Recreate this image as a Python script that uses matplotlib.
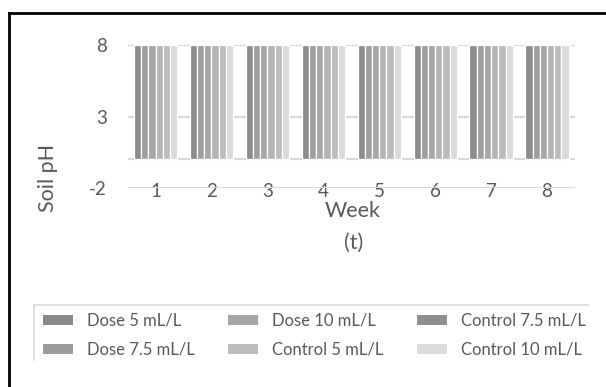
import matplotlib
matplotlib.use("Agg")
import matplotlib.pyplot as plt
from matplotlib.patches import Patch
from matplotlib.lines import Line2D
import numpy as np

plt.rcParams['font.family'] = ['Lato', 'DejaVu Sans']
plt.rcParams['axes.unicode_minus'] = False

weeks = [1, 2, 3, 4, 5, 6, 7, 8]
series = ["Dose 5 mL/L", "Dose 7.5 mL/L", "Dose 10 mL/L",
          "Control 5 mL/L", "Control 7.5 mL/L", "Control 10 mL/L"]
ph_values = {
    "Dose 5 mL/L":      [8, 8, 8, 8, 8, 8, 8, 8],
    "Dose 7.5 mL/L":    [8, 8, 8, 8, 8, 8, 8, 8],
    "Dose 10 mL/L":     [8, 8, 8, 8, 8, 8, 8, 8],
    "Control 5 mL/L":   [8, 8, 8, 8, 8, 8, 8, 8],
    "Control 7.5 mL/L": [8, 8, 8, 8, 8, 8, 8, 8],
    "Control 10 mL/L":  [8, 8, 8, 8, 8, 8, 8, 8],
}
y_ticks = [-2, 3, 8]

bar_colors = ["#8c8c8c", "#a0a0a0", "#a6a6a6", "#b5b5b5", "#bcbcbc", "#dadada"]
legend_colors = ["#8a8a8a", "#9b9b9b", "#a5a5a5", "#bcbcbc", "#8e8e8e", "#dcdcdc"]
text_color = "#595959"
grid_color = "#d9d9d9"

W, H = 606, 387
fig = plt.figure(figsize=(W / 100, H / 100), dpi=100)

# plot area in pixel coordinates
left, right, top, bottom = 127.6, 575.0, 45.0, 188.0
ax = fig.add_axes([left / W, 1 - bottom / H, (right - left) / W, (bottom - top) / H])

x = np.arange(len(weeks)) + 1
n = len(series)
group_w = 0.775
slot = group_w / n
for i, name in enumerate(series):
    offs = -group_w / 2 + slot * (i + 0.5)
    ax.bar(x + offs, ph_values[name], width=slot, color=bar_colors[i],
           edgecolor="white", linewidth=0.9, zorder=2)

ax.set_xlim(0.5, 8.5)
ax.set_ylim(-2, 8)
ax.set_yticks(y_ticks)
ax.set_xticks(x)
ax.set_xticklabels([str(w) for w in weeks])
ax.grid(axis="y", color=grid_color, linewidth=1.5, zorder=0)
ax.axhline(0, color=grid_color, linewidth=1.5, zorder=1)
ax.set_axisbelow(True)
for s in ax.spines.values():
    s.set_visible(False)
ax.tick_params(axis="y", length=0, pad=15, labelsize=13.5, labelcolor=text_color)
ax.tick_params(axis="x", length=0, pad=-3.5, labelsize=13.5, labelcolor=text_color)

fig.text(48 / W, 1 - 178 / H, "Soil pH", rotation=90, ha="center", va="center",
         fontsize=15.5, color=text_color)
fig.text(353 / W, 1 - 211 / H, "Week", ha="center", va="center",
         fontsize=15.5, color=text_color)
fig.text(354 / W, 1 - 243 / H, "(t)", ha="center", va="center",
         fontsize=15.5, color=text_color)

# legend
handles = [Patch(facecolor=c, edgecolor="none") for c in legend_colors]
leg = fig.legend(handles, series, ncol=3, loc="upper left",
                 bbox_to_anchor=(42.7 / W, 1 - 313 / H),
                 frameon=False, fontsize=12, labelcolor=text_color,
                 handlelength=1.8, handleheight=0.55, handletextpad=0.85,
                 columnspacing=2.0, labelspacing=0.75,
                 borderpad=0, borderaxespad=0)

# legend border (top and left edges)
fig.add_artist(Line2D([34 / W, 588 / W], [1 - 305 / H, 1 - 305 / H],
                      color=grid_color, linewidth=1.2))
fig.add_artist(Line2D([34 / W, 34 / W], [1 - 305 / H, 1 - 360 / H],
                      color=grid_color, linewidth=1.2))

# outer frame (top and left edges)
fig.add_artist(Line2D([9 / W, 1.0], [1 - 13 / H, 1 - 13 / H],
                      color="black", linewidth=2))
fig.add_artist(Line2D([9 / W, 9 / W], [1 - 13 / H, 0.0],
                      color="black", linewidth=2))

fig.savefig("out.png", dpi=100, facecolor="white")
